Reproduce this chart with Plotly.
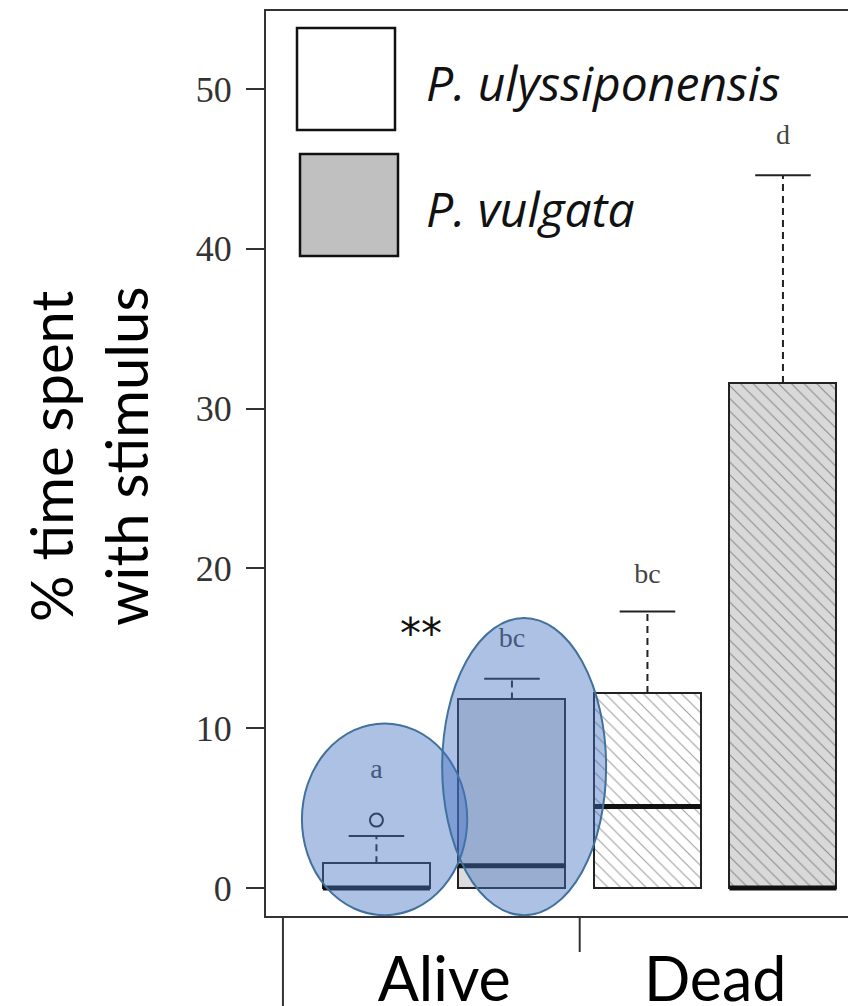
import plotly.graph_objects as go

# ---- data ----
groups = ["Alive", "Alive", "Dead", "Dead"]
species = ["P. ulyssiponensis", "P. vulgata", "P. ulyssiponensis", "P. vulgata"]
q1 = [0.0, 0.0, 0.0, 0.0]
median = [0.0, 1.4, 5.1, 0.0]
q3 = [1.55, 11.8, 12.2, 31.6]
upper = [3.25, 13.1, 17.3, 44.6]
outliers = [[4.25], [], [], []]
letters = ["a", "bc", "bc", "d"]
letter_y = [7.3, 15.5, 19.5, 47.0]
group_labels = ["Alive", "Dead"]
y_ticks = [0, 10, 20, 30, 40, 50]

# ---- styles ----
pos = [0, 1, 2, 3]
box_w = 0.79
cap_w = 0.41
fills = ["white", "#dcdcdc", "white", "#d9d9d9"]
patterns = ["", "", "\\", "\\"]
edge = "#222222"

# plot area geometry (px, page coords) used for paper-relative decorations
PL, PR, PT, PB = 266, 856, 11, 916


def px_x(v):
    return (v - PL) / (PR - PL)


def px_y(v):
    return (PB - v) / (PB - PT)


fig = go.Figure()

# boxes
fig.add_trace(go.Bar(
    x=pos, base=q1, y=[b - a for a, b in zip(q1, q3)], width=box_w,
    marker=dict(color=fills, line=dict(color=edge, width=2),
                pattern=dict(shape=patterns, fgcolor="#444444", size=9, solidity=0.13)),
    showlegend=False, hoverinfo="skip"))

for i, p in enumerate(pos):
    # median
    fig.add_trace(go.Scatter(x=[p - box_w / 2, p + box_w / 2], y=[median[i]] * 2, mode="lines",
                             line=dict(color="#111111", width=5), showlegend=False, hoverinfo="skip"))
    # whisker (dashed)
    fig.add_trace(go.Scatter(x=[p, p], y=[q3[i], upper[i]], mode="lines",
                             line=dict(color=edge, width=2, dash="7px,5px"), showlegend=False, hoverinfo="skip"))
    # cap
    fig.add_trace(go.Scatter(x=[p - cap_w / 2, p + cap_w / 2], y=[upper[i]] * 2, mode="lines",
                             line=dict(color=edge, width=2), showlegend=False, hoverinfo="skip"))
    # outliers
    if outliers[i]:
        fig.add_trace(go.Scatter(x=[p] * len(outliers[i]), y=outliers[i], mode="markers",
                                 marker=dict(symbol="circle-open", size=13, color=edge, line=dict(width=2)),
                                 showlegend=False, hoverinfo="skip"))

# significance letters
fig.add_trace(go.Scatter(x=pos, y=letter_y, mode="text", text=letters,
                         textfont=dict(family="Liberation Serif", size=28, color="#444444"),
                         showlegend=False, hoverinfo="skip"))

shapes = []
# highlight ellipses around the Alive boxes
ell = [dict(cx=pos[0] + 0.06, hw=0.61, y0=-1.7, y1=10.3),
       dict(cx=pos[1] + 0.09, hw=0.605, y0=-1.7, y1=16.9)]
for e in ell:
    shapes.append(dict(type="circle", xref="x", yref="y",
                       x0=e["cx"] - e["hw"], x1=e["cx"] + e["hw"], y0=e["y0"], y1=e["y1"],
                       fillcolor="rgba(68,114,196,0.44)", line=dict(color="#41719C", width=2),
                       layer="above"))

# group bracket lines below the axis
for xb, yb in [(-0.69, 1006), (1.5, 952), (3.49, 1006)]:
    shapes.append(dict(type="line", xref="x", yref="paper", x0=xb, x1=xb, y0=0, y1=px_y(yb),
                       line=dict(color="#333333", width=2)))

# legend squares
shapes.append(dict(type="rect", xref="paper", yref="paper", x0=px_x(297), x1=px_x(395),
                   y0=px_y(130), y1=px_y(28),
                   fillcolor="white", line=dict(color="#111111", width=2.5)))
shapes.append(dict(type="rect", xref="paper", yref="paper", x0=px_x(300), x1=px_x(398),
                   y0=px_y(256), y1=px_y(154),
                   fillcolor="#c0c0c0", line=dict(color="#111111", width=2.5)))

annotations = [
    dict(xref="paper", yref="paper", x=px_x(424), y=px_y(82), xanchor="left", yanchor="middle",
         text="<i>P. ulyssiponensis</i>", showarrow=False,
         font=dict(family="Open Sans", size=48, color="#111111")),
    dict(xref="paper", yref="paper", x=px_x(424), y=px_y(208), xanchor="left", yanchor="middle",
         text="<i>P. vulgata</i>", showarrow=False,
         font=dict(family="Open Sans", size=48, color="#111111")),
    dict(xref="x", yref="y", x=0.33, y=15.9, text="**", showarrow=False,
         font=dict(family="DejaVu Sans", size=42, color="#111111")),
    dict(xref="paper", yref="paper", x=px_x(88), y=px_y(456), xanchor="center", yanchor="middle",
         text="% time spent<br>with stimulus", textangle=-90, showarrow=False,
         font=dict(family="Lato", size=58, color="#000000")),
]

fig.update_layout(
    width=848, height=998,
    margin=dict(l=258, r=0, t=3, b=90),
    plot_bgcolor="white", paper_bgcolor="white",
    shapes=shapes, annotations=annotations, showlegend=False,
    bargap=0,
)
fig.update_xaxes(range=[-0.815, 3.539], showgrid=False, zeroline=False, automargin=False,
                 showline=True, linecolor="#333333", linewidth=2, mirror=True,
                 tickvals=[0.5, 2.5], ticktext=group_labels, ticks="",
                 tickfont=dict(family="Lato", size=61, color="#000000"),
                 ticklabelstandoff=10)
fig.update_yaxes(range=[-1.75, 54.88], showgrid=False, zeroline=False, automargin=False,
                 showline=True, linecolor="#333333", linewidth=2,
                 tickvals=y_ticks, ticks="outside", ticklen=18, tickwidth=2, tickcolor="#333333",
                 tickfont=dict(family="Liberation Serif", size=36, color="#333333"),
                 ticklabelstandoff=7)

fig.write_html("out.html")
